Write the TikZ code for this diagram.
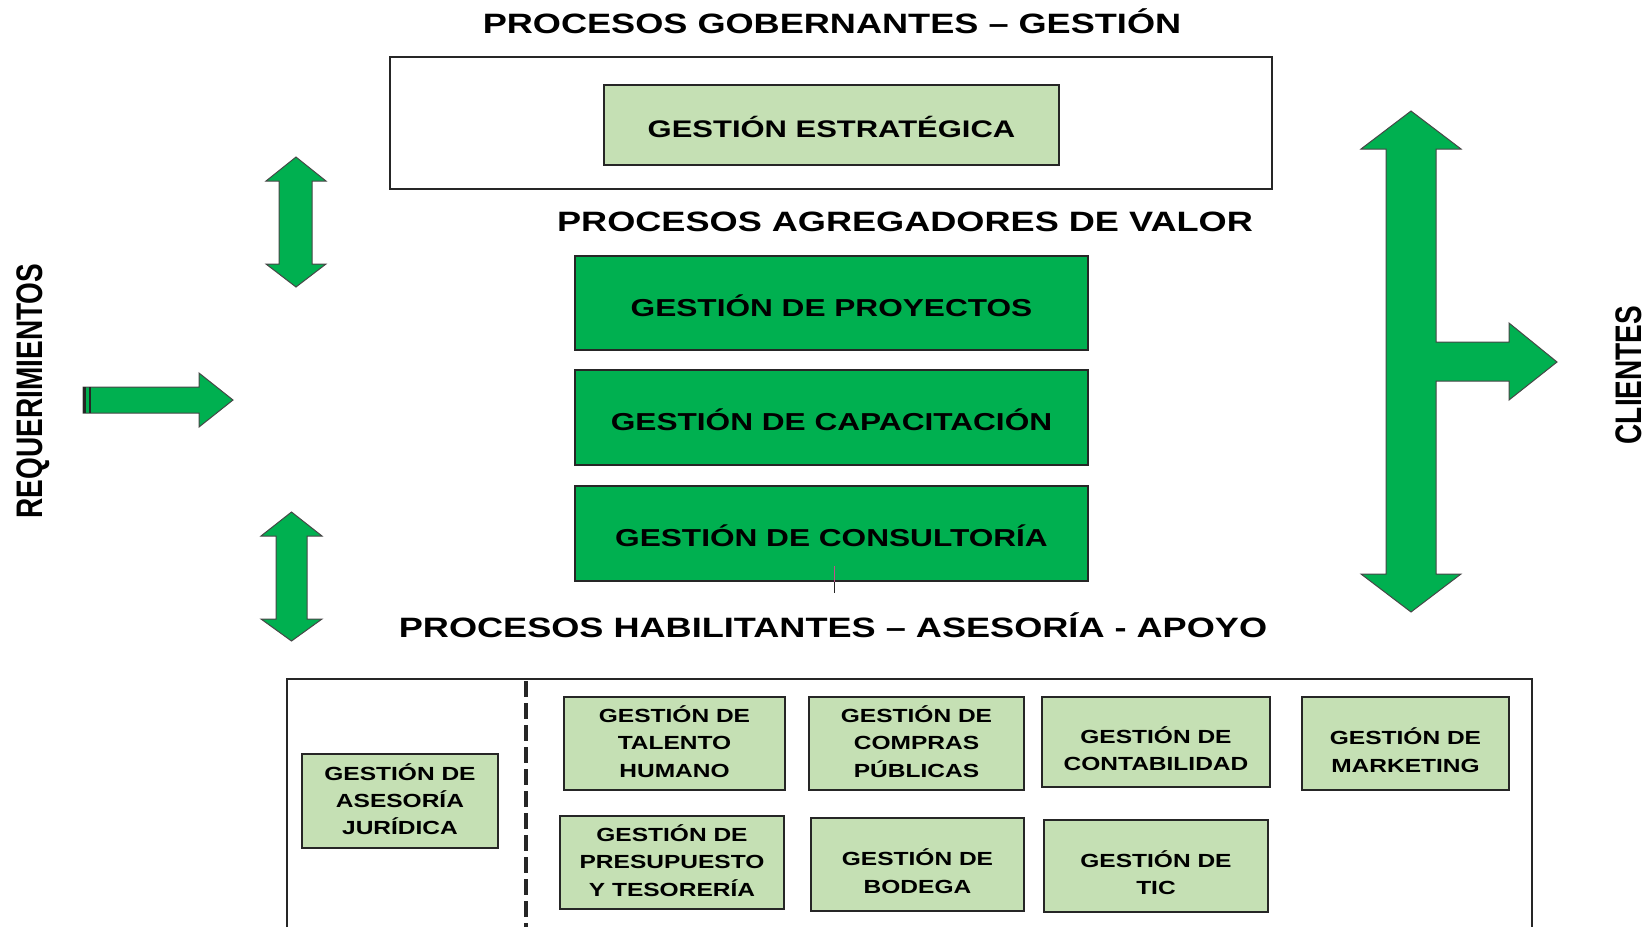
\documentclass[tikz,border=0pt]{standalone}
\usepackage{fontspec}
\setmainfont{Liberation Sans}
\usepackage{graphicx}
\definecolor{vg}{HTML}{00B050}
\definecolor{lg}{HTML}{C5E0B4}
\definecolor{ln}{HTML}{262626}
\definecolor{pk}{HTML}{C0508A}
\newcommand\sx[1]{\scalebox{1.29}[1]{#1}}
\newcommand\sy[1]{\scalebox{1}[1.32]{#1}}
\newcommand\dn{\rule{0pt}{30pt}}
\newcommand\up{\rule[-4pt]{0pt}{4pt}}
\begin{document}
\begin{tikzpicture}[x=1pt,y=-1pt,
  ttl/.style={font=\fontsize{28}{34}\selectfont\bfseries, inner sep=0pt, anchor=base},
  rot/.style={font=\fontsize{28}{34}\selectfont\bfseries, inner sep=0pt, rotate=90},
  gbox/.style={draw=ln, line width=1.4pt, fill=vg, inner sep=0pt,
    font=\fontsize{24.5}{30}\selectfont\bfseries, text height=26.5pt, text depth=0pt},
  lbox/.style={draw=ln, line width=1.4pt, fill=lg, inner sep=0pt,
    font=\fontsize{24}{30}\selectfont\bfseries, text height=25.2pt, text depth=0pt},
  sbox/.style={draw=ln, line width=1.4pt, fill=lg, inner sep=0pt, align=center,
    font=\fontsize{19}{27.4}\selectfont\bfseries},
  arr/.style={fill=vg, draw=ln!85, line width=1pt, line join=miter},
  frame/.style={draw=ln, line width=1.5pt}
]
\useasboundingbox (0,0) rectangle (1650,927);

% titles
\node[ttl] (t1) at (832,33) {\sx{PROCESOS GOBERNANTES – GESTIÓN}};
\node[ttl] (t2) at (905,231) {\sx{PROCESOS AGREGADORES DE VALOR}};
\node[ttl] (t3) at (833,637) {\sx{PROCESOS HABILITANTES – ASESORÍA - APOYO}};

% top frame
\node[frame, minimum width=882pt, minimum height=132pt, inner sep=0pt] (top) at (831,123) {};
\node[lbox, minimum width=455pt, minimum height=80pt] (ge) at (831.5,125) {\sx{GESTIÓN ESTRATÉGICA}};

% value-adding processes
\node[gbox, minimum width=513pt, minimum height=94pt] (gp) at (831.5,303) {\sx{GESTIÓN DE PROYECTOS}};
\node[gbox, minimum width=513pt, minimum height=95pt] (gk) at (831.5,417.5) {\sx{GESTIÓN DE CAPACITACIÓN}};
\node[gbox, minimum width=513pt, minimum height=95pt] (gc) at (831.5,533.5) {\sx{GESTIÓN DE CONSULTORÍA}};

% tick below consultoria
\coordinate (tk) at ([xshift=3pt]gc.south);
\draw[pk, line width=1.5pt] (tk) -- ++(0,-16);
\draw[ln, line width=1.5pt] (tk) -- ++(0,11);

% bottom frame
\draw[frame] (287,927) -- (287,679) -- (1532,679) -- (1532,927);
\draw[ln, line width=3.2pt, dash pattern=on 16pt off 6pt] (526,681) -- (526,927);

% support boxes
\node[sbox, minimum width=196pt, minimum height=94pt] (aj) at (400,801) {\sx{GESTIÓN DE}\\\sx{ASESORÍA}\\\sx{JURÍDICA}\up};
\node[sbox, minimum width=221pt, minimum height=93pt] (th) at (674.5,743.5) {\sx{GESTIÓN DE}\\\sx{TALENTO}\\\sx{HUMANO}\up};
\node[sbox, minimum width=215pt, minimum height=93pt] (cp) at (916.5,743.5) {\sx{GESTIÓN DE}\\\sx{COMPRAS}\\\sx{PÚBLICAS}\up};
\node[sbox, minimum width=228pt, minimum height=90pt] (co) at (1156,742) {\dn\sx{GESTIÓN DE}\\\sx{CONTABILIDAD}};
\node[sbox, minimum width=207pt, minimum height=93pt] (mk) at (1405.5,743.5) {\dn\sx{GESTIÓN DE}\\\sx{MARKETING}};
\node[sbox, minimum width=224pt, minimum height=93pt] (pt) at (672,862.5) {\sx{GESTIÓN DE}\\\sx{PRESUPUESTO}\\\sx{Y TESORERÍA}\up};
\node[sbox, minimum width=213pt, minimum height=93pt] (bo) at (917.5,864.5) {\dn\sx{GESTIÓN DE}\\\sx{BODEGA}};
\node[sbox, minimum width=224pt, minimum height=92pt] (ti) at (1156,866) {\dn\sx{GESTIÓN DE}\\\sx{TIC}};

% side labels
\node[rot] (req) at (33,391) {\sy{REQUERIMIENTOS}};
\node[rot] (cli) at (1629,375) {\sy{CLIENTES}};

% up-down arrows on the left
\draw[arr] (296,157) -- (326,181) -- (312,181) -- (312,264) -- (326,264) -- (296,287)
  -- (266,264) -- (279,264) -- (279,181) -- (266,181) -- cycle;
\draw[arr] (291.5,512) -- (322,536) -- (307,536) -- (307,619) -- (322,619) -- (291.5,641)
  -- (261,619) -- (276,619) -- (276,536) -- (261,536) -- cycle;

% requirements arrow
\draw[arr] (83,387) -- (199,387) -- (199,373) -- (233,400) -- (199,427) -- (199,413)
  -- (83,413) -- cycle;
\draw[ln, line width=2.5pt] (84.3,387) -- (84.3,413);
\draw[ln, line width=2.5pt] (90,387) -- (90,413);

% big arrow to clients
\draw[arr] (1411,111) -- (1461,149) -- (1436,149) -- (1436,342) -- (1509,342) -- (1509,323)
  -- (1557,362) -- (1509,400) -- (1509,381) -- (1436,381) -- (1436,574) -- (1461,574)
  -- (1411,612) -- (1361,574) -- (1386,574) -- (1386,149) -- (1361,149) -- cycle;
\end{tikzpicture}
\end{document}
